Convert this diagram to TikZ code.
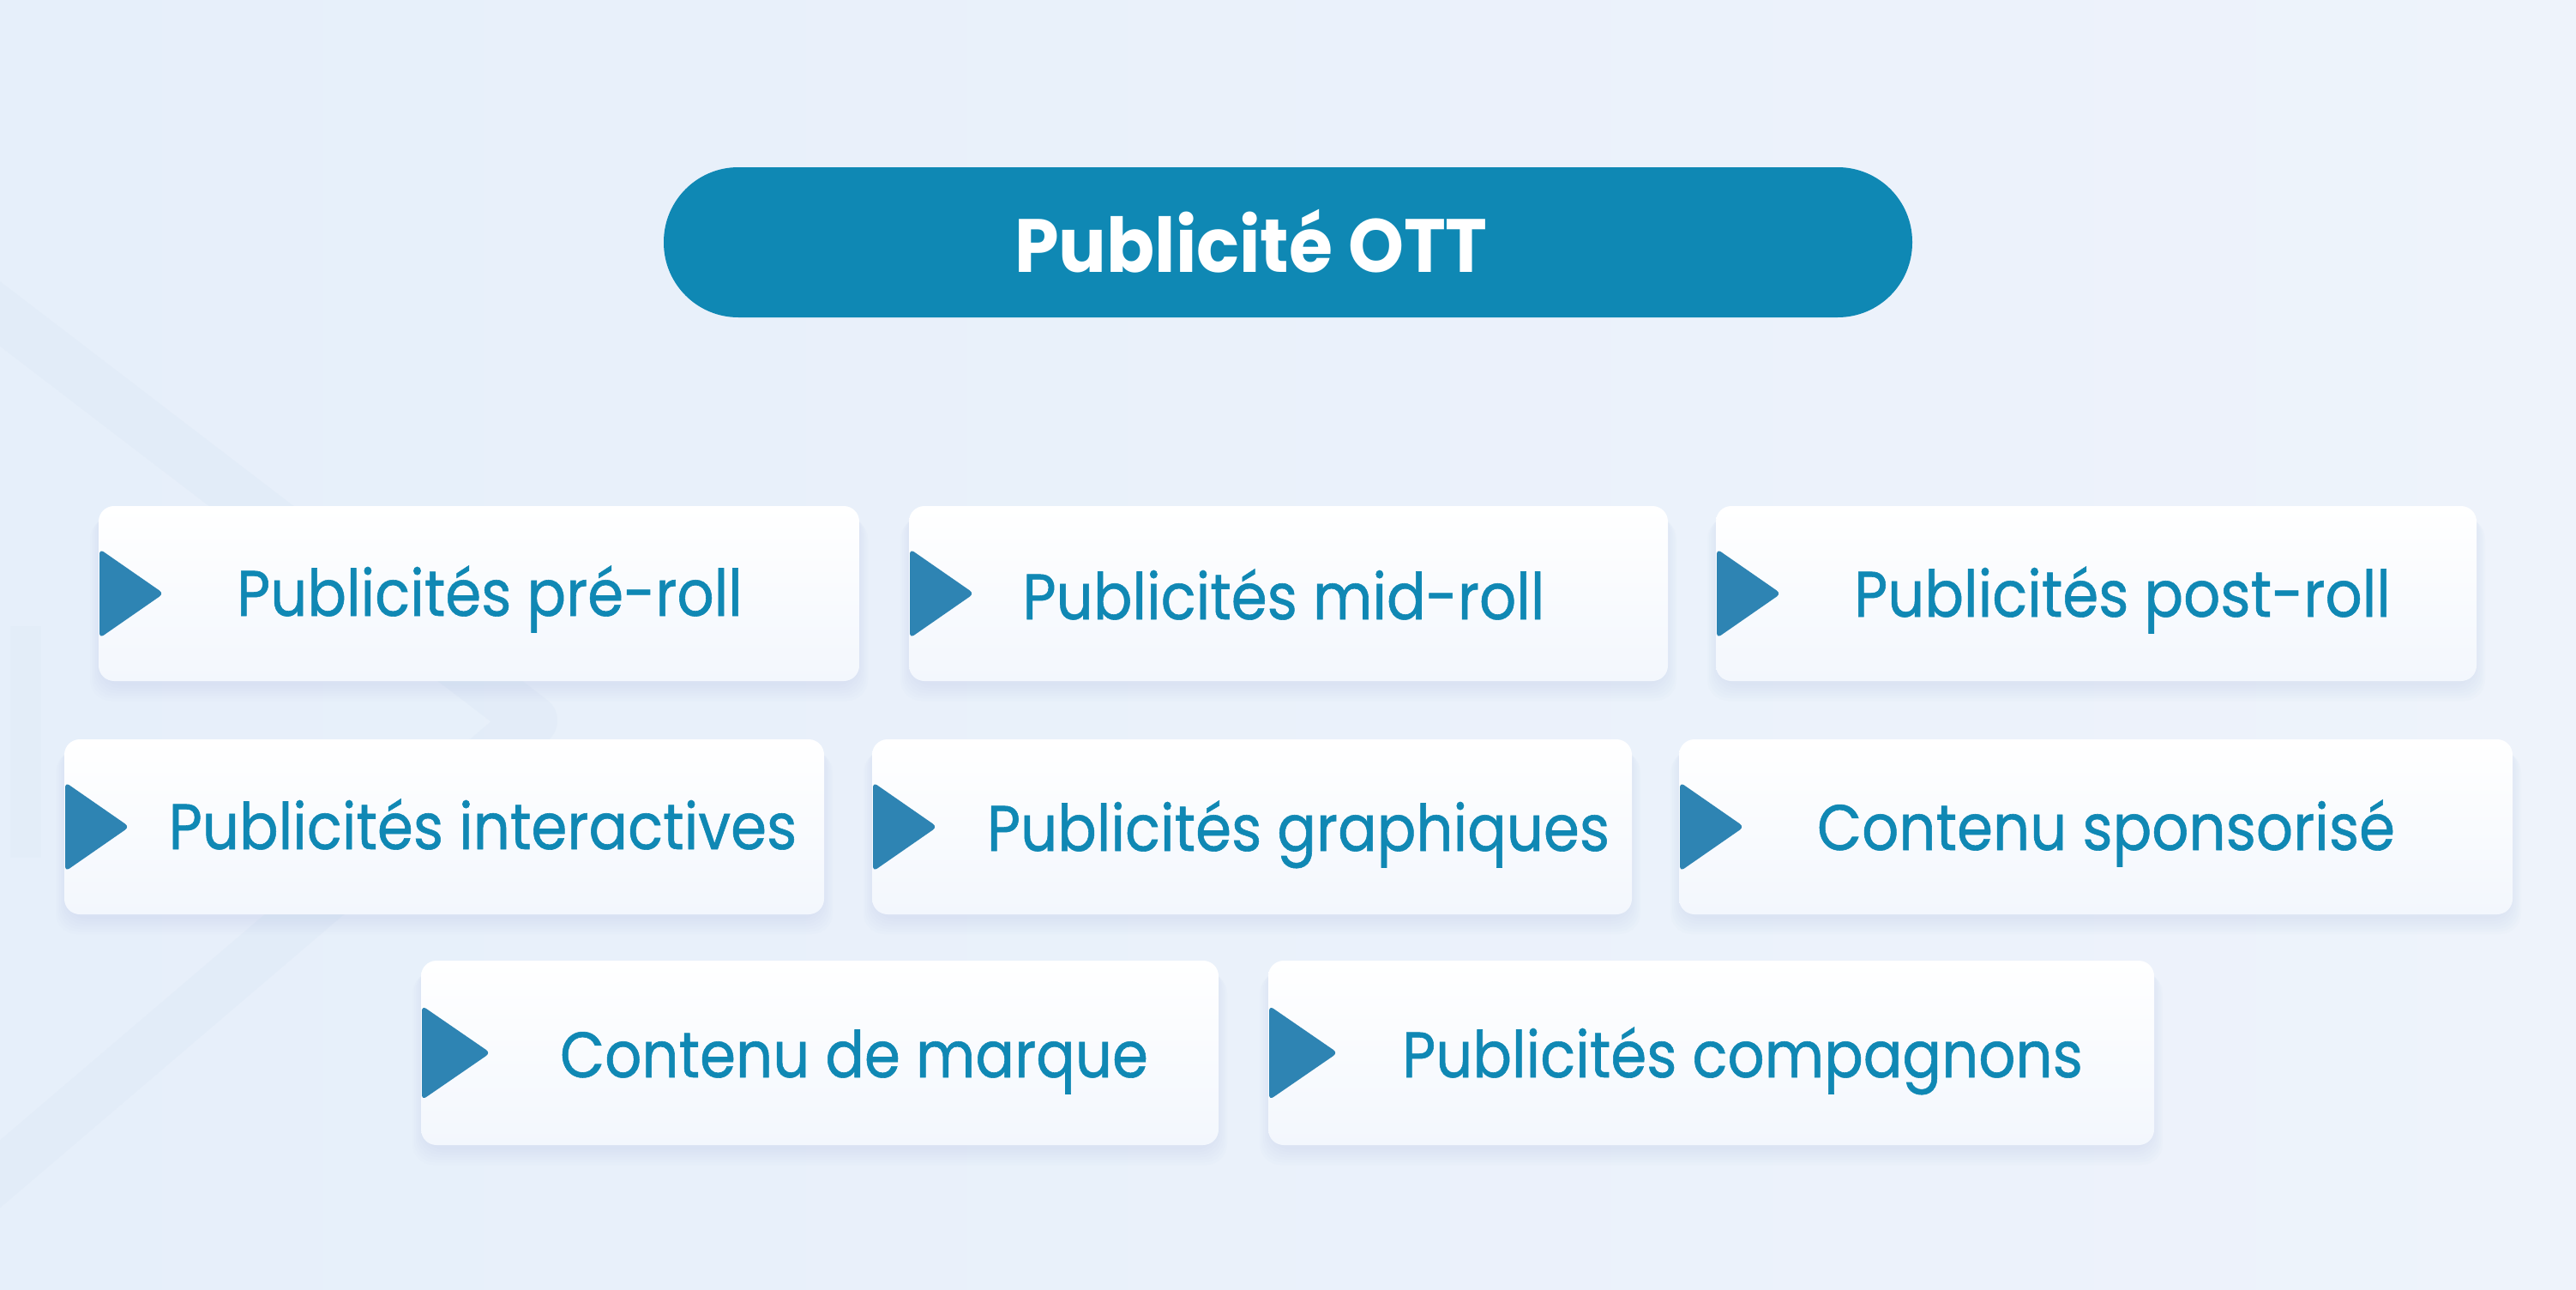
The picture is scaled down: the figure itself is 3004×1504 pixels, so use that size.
\documentclass[tikz,border=0pt]{standalone}
\usepackage{fontspec}
\setmainfont{Poppins}
\newfontfamily\cardfont{Poppins}[BoldFont={Poppins}, BoldFeatures={FakeBold=0.8}]
\definecolor{bgA}{HTML}{E6EFFA}
\definecolor{bgB}{HTML}{EEF3FB}
\definecolor{bandc}{HTML}{DCE8F5}
\definecolor{pillc}{HTML}{0F88B4}
\definecolor{txtc}{HTML}{1088B4}
\definecolor{tric}{HTML}{2E84B3}
\definecolor{shdc}{HTML}{B9CBE3}
\definecolor{boxbot}{HTML}{F3F7FD}
\newcommand\cardlabel[1]{\scalebox{0.9}[1]{\cardfont\bfseries\fontsize{75}{80}\selectfont #1}}
\newcommand\titlelabel[1]{\scalebox{0.94}[1]{\bfseries\fontsize{88}{90}\selectfont #1}}
\tikzset{
  cardbox/.style={draw=none, rounded corners=18pt, top color=white, bottom color=boxbot, inner sep=0pt},
  cardtext/.style={text=txtc, inner sep=0pt, anchor=base},
  titletext/.style={text=white, inner sep=0pt, anchor=base},
  pillbox/.style={fill=pillc, draw=none, rounded corners=87pt, inner sep=0pt},
}
\begin{document}
\begin{tikzpicture}[x=1pt,y=-1pt]
\useasboundingbox (0,0) rectangle (3004,1504);
\shade[left color=bgA, right color=bgB] (0,0) rectangle (3004,1504);
% faint background chevron
\draw[bandc, line width=60pt, opacity=0.4, line cap=round, line join=round]
  (-60,320) -- (620,840) -- (-60,1420);
\draw[bandc, line width=36pt, opacity=0.25] (30,730) -- (30,1000);
% title pill
\node (pill) [pillbox, minimum width=1456, minimum height=175] at (1502,282.5) {};
\node (title) [titletext] at (1459,317) {\titlelabel{Publicité OTT}};
% cards
\foreach \n/\xa/\ya/\xb/\yb/\tx/\ty/\th/\tw/\t in {
  c1/115/590/1002/794/571/718/52/75/Publicités pré-roll,
  c2/1060/590/1945/794/1497/722/52/75/Publicités mid-roll,
  c3/2001/590/2888/794/2475/719/52/75/Publicités post-roll,
  c4/75/862/961/1066/563/990/52/75/Publicités interactives,
  c5/1017/862/1903/1066/1514/992/52/75/Publicités graphiques,
  c6/1958/862/2930/1066/2456/991/52/75/Contenu sponsorisé,
  c7/491/1120/1421/1335/996/1256/55/80/Contenu de marque,
  c8/1479/1120/2512/1335/2032/1256/55/80/Publicités compagnons}{
  \foreach \k in {1,...,7}{
    \fill[shdc, opacity=0.045, rounded corners=24pt]
      (\xa-2*\k+4, \ya+2*\k) rectangle (\xb+2*\k-4, \yb+3*\k+2);
  }
  \node (\n) [cardbox, minimum width={\xb-\xa}, minimum height={\yb-\ya}]
    at ({(\xa+\xb)/2},{(\ya+\yb)/2}) {};
  \fill[tric, rounded corners=6pt]
    (\xa+1, {(\ya+\yb)/2-\th}) -- (\xa+1+\tw, {(\ya+\yb)/2}) -- (\xa+1, {(\ya+\yb)/2+\th}) -- cycle;
  \node (\n t) [cardtext] at (\tx,\ty) {\cardlabel{\t}};
}
\end{tikzpicture}
\end{document}
